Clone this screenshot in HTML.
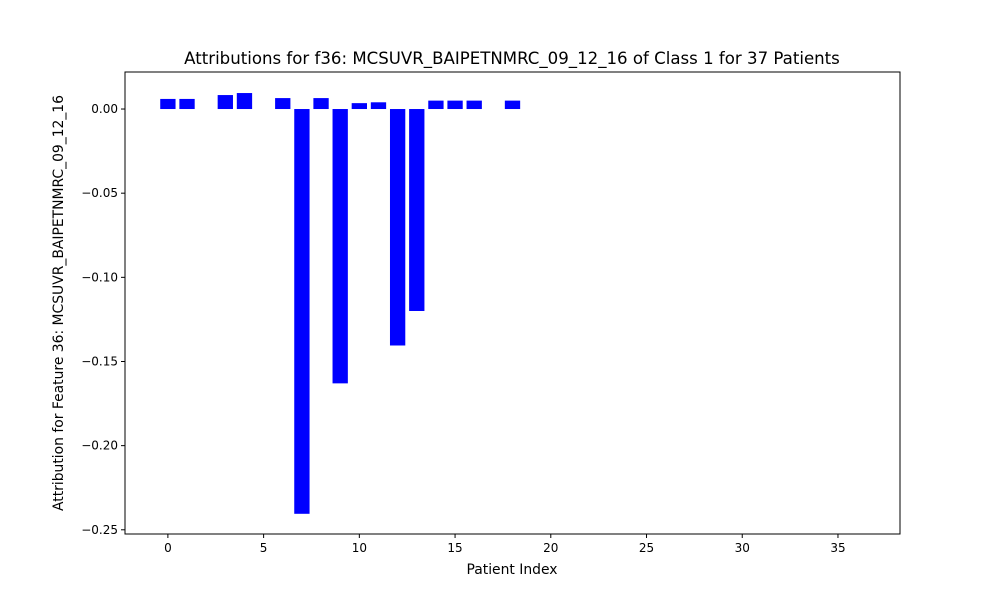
<!DOCTYPE html>
<html><head><meta charset="utf-8"><style>body{margin:0;background:#fff}svg text{font-family:"DejaVu Sans","Liberation Sans",sans-serif;fill:#000}</style></head>
<body>
<svg id="chart" width="1000" height="600"></svg>
<script>
const categories = Array.from({length:37},(_, i)=>i);
const values = [0.006,0.006,0,0.0083,0.0095,0,0.0065,-0.2405,0.0065,-0.163,0.0035,0.004,-0.1405,-0.120,0.005,0.005,0.005,0,0.005,0,0,0,0,0,0,0,0,0,0,0,0,0,0,0,0,0,0];
const xTicks = [0,5,10,15,20,25,30,35];
const yTicks = [0.00,-0.05,-0.10,-0.15,-0.20,-0.25];
const yTickLabels = ["0.00","−0.05","−0.10","−0.15","−0.20","−0.25"];

const L=125,R=900,T=72,B=534;
const xmin=-2.24,xmax=38.24,ymin=-0.2525,ymax=0.022;
const xs=v=>L+(v-xmin)/(xmax-xmin)*(R-L);
const ys=v=>B-(v-ymin)/(ymax-ymin)*(B-T);
const svg=document.getElementById('chart');
const NS='http://www.w3.org/2000/svg';
function mk(tag,attrs,parent){const e=document.createElementNS(NS,tag);for(const k in attrs)e.setAttribute(k,attrs[k]);(parent||svg).appendChild(e);return e;}

categories.forEach((c,i)=>{
  const v=values[i];
  const x0=xs(c-0.4),x1=xs(c+0.4);
  const y0=ys(Math.max(v,0)),y1=ys(Math.min(v,0));
  const r=mk('rect',{x:x0,y:y0,width:x1-x0,height:Math.max(y1-y0,0),fill:'#0000ff'});
  
  
});

const frame=mk('rect',{x:L,y:T,width:R-L,height:B-T,fill:'none',stroke:'#000','stroke-width':1});



xTicks.forEach(t=>{
  const x=xs(t);
  mk('line',{x1:x,x2:x,y1:B,y2:B+4,stroke:'#000'});
  const tx=mk('text',{x:x,y:B+18,'text-anchor':'middle','font-size':12});
  tx.textContent=t;
  
  
});
yTicks.forEach((t,i)=>{
  const y=ys(t);
  mk('line',{x1:L-4,x2:L,y1:y,y2:y,stroke:'#000'});
  const tx=mk('text',{x:L-7,y:y+4,'text-anchor':'end','font-size':12});
  tx.textContent=yTickLabels[i];
  
  
});

const title=mk('text',{x:512,y:64,'text-anchor':'middle','font-size':16.6});
title.textContent='Attributions for f36: MCSUVR_BAIPETNMRC_09_12_16 of Class 1 for 37 Patients';



const xl=mk('text',{x:512,y:574,'text-anchor':'middle','font-size':13.9});
xl.textContent='Patient Index';



const yl=mk('text',{x:0,y:0,'text-anchor':'middle','font-size':13.9,transform:'translate(63,303) rotate(-90)'});
yl.textContent='Attribution for Feature 36: MCSUVR_BAIPETNMRC_09_12_16';


</script>
</body></html>
